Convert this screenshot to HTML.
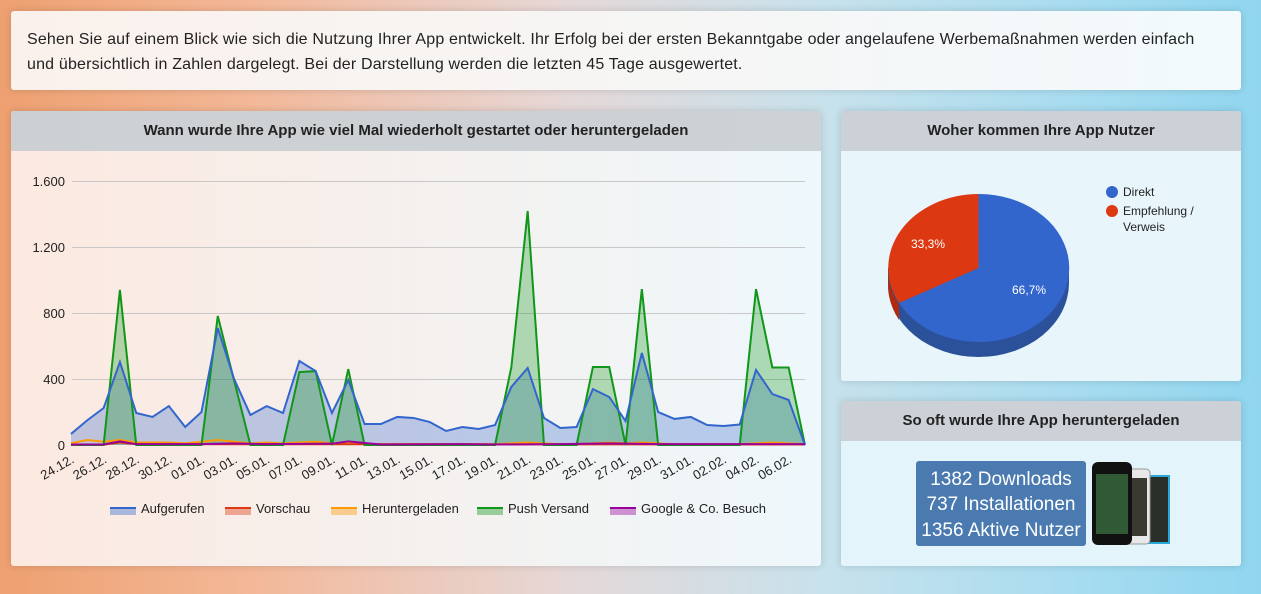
<!DOCTYPE html>
<html><head><meta charset="utf-8"><style>
body{margin:0;width:1261px;height:594px;overflow:hidden;font-family:"Liberation Sans",sans-serif;
background:linear-gradient(90deg,#eea070 0%,#f3b898 20%,#e6d8d8 45%,#c8e2ec 65%,#a8dcf0 85%,#90d6ef 100%);position:relative}
.p{position:absolute;background:rgba(255,255,255,0.9);border-radius:3px;box-shadow:0 0 8px rgba(0,0,0,0.15)}
.h{height:40px;line-height:40px;text-align:center;font-weight:bold;font-size:15px;color:#222;background:rgba(200,205,210,0.9);border-radius:3px 3px 0 0}
</style></head><body>
<div class="p" style="left:11px;top:11px;width:1230px;height:79px;background:linear-gradient(90deg,#fbf1ec,#f2fafd)">
<div style="padding:16px 16px;font-size:16px;letter-spacing:0.18px;line-height:25px;color:#222;white-space:nowrap">Sehen Sie auf einem Blick wie sich die Nutzung Ihrer App entwickelt. Ihr Erfolg bei der ersten Bekanntgabe oder angelaufene Werbemaßnahmen werden einfach<br>und übersichtlich in Zahlen dargelegt. Bei der Darstellung werden die letzten 45 Tage ausgewertet.</div></div>

<div class="p" style="left:11px;top:111px;width:810px;height:455px;background:linear-gradient(90deg,#fce9e0,#eef8fc)">
<div class="h">Wann wurde Ihre App wie viel Mal wiederholt gestartet oder heruntergeladen</div></div>
<div class="p" style="left:841px;top:111px;width:400px;height:270px;background:#e8f6fc">
<div class="h">Woher kommen Ihre App Nutzer</div></div>
<div class="p" style="left:841px;top:401px;width:400px;height:165px;background:#e3f4fb">
<div class="h">So oft wurde Ihre App heruntergeladen</div></div>

<svg width="1261" height="594" style="position:absolute;left:0;top:0" font-family="Liberation Sans, sans-serif">
<g stroke="#c8c8c8" stroke-width="1">
<line x1="72" y1="181.5" x2="805" y2="181.5"/><line x1="72" y1="247.5" x2="805" y2="247.5"/>
<line x1="72" y1="313.5" x2="805" y2="313.5"/><line x1="72" y1="379.5" x2="805" y2="379.5"/></g>
<g font-size="13" fill="#222" text-anchor="end">
<text x="65" y="186">1.600</text><text x="65" y="252">1.200</text><text x="65" y="318">800</text><text x="65" y="384">400</text><text x="65" y="450">0</text></g>
<g transform="translate(71,445) scale(16.31,-0.165)">
<polygon fill="rgba(51,102,204,0.3)" points="0,0 0,67 1,150 2,224 3,503 4,194 5,170 6,236 7,109 8,200 9,709 10,400 11,182 12,236 13,194 14,509 15,448 16,194 17,394 18,127 19,127 20,170 21,164 22,139 23,85 24,109 25,97 26,121 27,352 28,467 29,164 30,103 31,109 32,339 33,291 34,145 35,558 36,200 37,158 38,170 39,121 40,115 41,124 42,455 43,309 44,273 45,0"/>
<polygon fill="rgba(16,150,24,0.3)" points="0,0 2,0 3,940 4,0 8,0 9,782 11,0 13,0 14,442 15,448 16,0 17,460 18,0 26,0 27,473 28,1418 29,0 31,0 32,473 33,473 34,0 35,945 36,0 41,0 42,945 43,470 44,470 45,0"/>
<polyline fill="none" stroke="#ff9900" stroke-width="2" vector-effect="non-scaling-stroke" points="0,10 1,30 2,20 3,30 4,15 5,15 6,15 7,10 8,20 9,30 10,20 11,10 12,15 13,10 14,15 15,20 16,10 17,15 18,5 19,5 20,5 21,5 22,5 23,5 24,5 25,5 26,5 27,10 28,15 29,10 30,5 31,5 32,10 33,15 34,10 35,15 36,10 37,5 38,5 39,5 40,5 41,5 42,10 43,15 44,10 45,5"/>
<polyline fill="none" stroke="#dc3912" stroke-width="2" vector-effect="non-scaling-stroke" points="0,2 2,2 3,15 4,5 45,3"/>
<polyline fill="none" stroke="#109618" stroke-width="2" vector-effect="non-scaling-stroke" points="0,0 2,0 3,940 4,0 8,0 9,782 11,0 13,0 14,442 15,448 16,0 17,460 18,0 26,0 27,473 28,1418 29,0 31,0 32,473 33,473 34,0 35,945 36,0 41,0 42,945 43,470 44,470 45,0"/>
<polyline fill="none" stroke="#3366cc" stroke-width="2" vector-effect="non-scaling-stroke" points="0,67 1,150 2,224 3,503 4,194 5,170 6,236 7,109 8,200 9,709 10,400 11,182 12,236 13,194 14,509 15,448 16,194 17,394 18,127 19,127 20,170 21,164 22,139 23,85 24,109 25,97 26,121 27,352 28,467 29,164 30,103 31,109 32,339 33,291 34,145 35,558 36,200 37,158 38,170 39,121 40,115 41,124 42,455 43,309 44,273 45,0"/>
<polyline fill="none" stroke="#990099" stroke-width="2" vector-effect="non-scaling-stroke" points="0,3 2,3 3,22 4,5 8,5 10,10 12,5 16,8 17,22 18,12 19,3 24,5 26,3 30,5 33,10 36,5 45,5"/>
</g>
<g font-size="13" fill="#222" text-anchor="end">
<text transform="translate(75,462) rotate(-30)">24.12.</text>
<text transform="translate(107.6,462) rotate(-30)">26.12.</text>
<text transform="translate(140.2,462) rotate(-30)">28.12.</text>
<text transform="translate(172.9,462) rotate(-30)">30.12.</text>
<text transform="translate(205.5,462) rotate(-30)">01.01.</text>
<text transform="translate(238.1,462) rotate(-30)">03.01.</text>
<text transform="translate(270.7,462) rotate(-30)">05.01.</text>
<text transform="translate(303.3,462) rotate(-30)">07.01.</text>
<text transform="translate(336,462) rotate(-30)">09.01.</text>
<text transform="translate(368.6,462) rotate(-30)">11.01.</text>
<text transform="translate(401.2,462) rotate(-30)">13.01.</text>
<text transform="translate(433.8,462) rotate(-30)">15.01.</text>
<text transform="translate(466.4,462) rotate(-30)">17.01.</text>
<text transform="translate(499,462) rotate(-30)">19.01.</text>
<text transform="translate(531.7,462) rotate(-30)">21.01.</text>
<text transform="translate(564.3,462) rotate(-30)">23.01.</text>
<text transform="translate(596.9,462) rotate(-30)">25.01.</text>
<text transform="translate(629.5,462) rotate(-30)">27.01.</text>
<text transform="translate(662.1,462) rotate(-30)">29.01.</text>
<text transform="translate(694.8,462) rotate(-30)">31.01.</text>
<text transform="translate(727.4,462) rotate(-30)">02.02.</text>
<text transform="translate(760,462) rotate(-30)">04.02.</text>
<text transform="translate(792.6,462) rotate(-30)">06.02.</text>
</g>
<g font-size="13" fill="#222">
<rect x="110" y="507" width="26" height="8" fill="rgba(51,102,204,0.4)"/><rect x="110" y="507" width="26" height="2" fill="#3366cc"/><text x="141" y="513">Aufgerufen</text>
<rect x="225" y="507" width="26" height="8" fill="rgba(220,57,18,0.4)"/><rect x="225" y="507" width="26" height="2" fill="#dc3912"/><text x="256" y="513">Vorschau</text>
<rect x="331" y="507" width="26" height="8" fill="rgba(255,153,0,0.4)"/><rect x="331" y="507" width="26" height="2" fill="#ff9900"/><text x="362" y="513">Heruntergeladen</text>
<rect x="477" y="507" width="26" height="8" fill="rgba(16,150,24,0.4)"/><rect x="477" y="507" width="26" height="2" fill="#109618"/><text x="508" y="513">Push Versand</text>
<rect x="610" y="507" width="26" height="8" fill="rgba(153,0,153,0.4)"/><rect x="610" y="507" width="26" height="2" fill="#990099"/><text x="641" y="513">Google &amp; Co. Besuch</text>
</g>
<path d="M888,268 L888,283 A90.5,74 0 0 0 1069,283 L1069,268 Z" fill="#2a5199"/>
<path d="M888,268 L888,283 A90.5,74 0 0 0 899,320 L899,305 A90.5,74 0 0 1 888,268Z" fill="#b02a12"/>
<path d="M978.5,268 L978.5,194 A90.5,74 0 1 1 899,303 Z" fill="#3366cc"/>
<path d="M978.5,268 L899,303 A90.5,74 0 0 1 978.5,194 Z" fill="#dc3912"/>
<g font-size="12" fill="#fff"><text x="911" y="248">33,3%</text><text x="1012" y="294">66,7%</text></g>
<g font-size="12" fill="#222">
<circle cx="1112" cy="192" r="6" fill="#3366cc"/><text x="1123" y="196">Direkt</text>
<circle cx="1112" cy="211" r="6" fill="#dc3912"/><text x="1123" y="215">Empfehlung /</text><text x="1123" y="231">Verweis</text></g>
<rect x="916" y="461" width="170" height="85" rx="3" fill="#4a7ab0"/>
<g font-size="19" fill="#fff" text-anchor="middle" font-family="Liberation Sans, sans-serif">
<text x="1001" y="485">1382 Downloads</text><text x="1001" y="510">737 Installationen</text><text x="1001" y="536">1356 Aktive Nutzer</text></g>
<rect x="1140" y="475" width="30" height="69" fill="#2aa8d8"/>
<rect x="1142" y="477" width="26" height="65" fill="#2a2f2a"/>
<rect x="1118" y="469" width="32" height="75" rx="4" fill="#e8e8e8" stroke="#999"/>
<rect x="1121" y="478" width="26" height="58" fill="#3a3a30"/>
<rect x="1092" y="462" width="40" height="83" rx="6" fill="#111"/>
<rect x="1096" y="474" width="32" height="60" fill="#2f5a35"/>
</svg>
</body></html>
